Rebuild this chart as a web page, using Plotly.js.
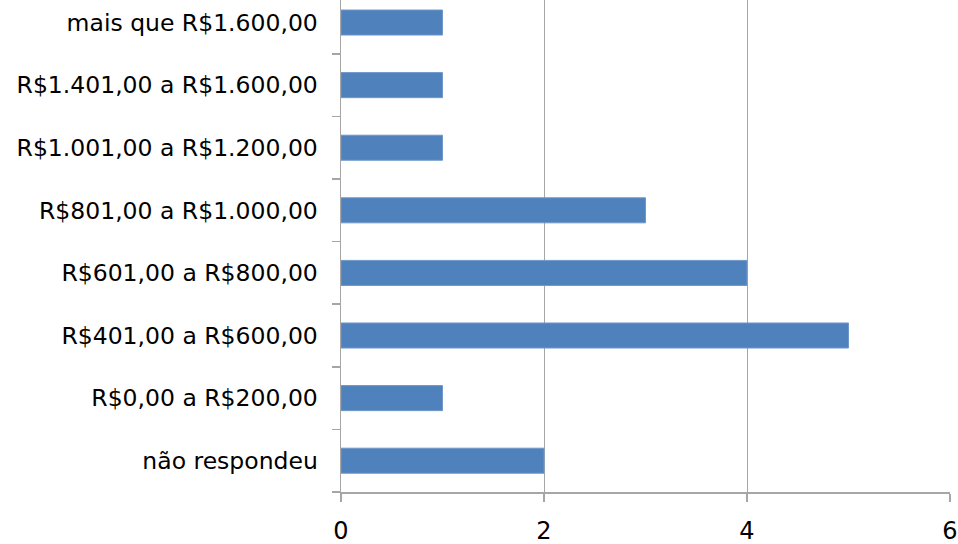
<!DOCTYPE html>
<html>
<head>
<meta charset="utf-8">
<script src="https://cdn.plot.ly/plotly-3.0.1.min.js"></script>
<style>html,body{margin:0;padding:0;background:#fff}#chart{width:958px;height:544px}</style>
</head>
<body>
<div id="chart"></div>
<script>
const categories = [
  "não respondeu",
  "R$0,00 a R$200,00",
  "R$401,00 a R$600,00",
  "R$601,00 a R$800,00",
  "R$801,00 a R$1.000,00",
  "R$1.001,00 a R$1.200,00",
  "R$1.401,00 a R$1.600,00",
  "mais que R$1.600,00"
];
const values = [2, 1, 5, 4, 3, 1, 1, 1];
const xTicks = [0, 2, 4, 6];

const trace = {
  type: "bar",
  orientation: "h",
  x: values,
  y: categories,
  marker: { color: "#4f81bd", line: { color: "#6f97c9", width: 1 } },
  hoverinfo: "none"
};

const layout = {
  width: 958,
  height: 544,
  margin: { l: 341, r: 8, t: 0, b: 52, pad: 0 },
  paper_bgcolor: "#ffffff",
  plot_bgcolor: "#ffffff",
  showlegend: false,
  bargap: 0.6,
  font: { family: "DejaVu Sans, Arial, sans-serif", size: 23.5, color: "#000000" },
  xaxis: {
    range: [0, 6],
    tickvals: xTicks,
    ticktext: xTicks.map(String),
    showgrid: true,
    gridcolor: "#a6a6a6",
    gridwidth: 1,
    zeroline: false,
    showline: true,
    linecolor: "#a6a6a6",
    linewidth: 1.5,
    ticks: "outside",
    ticklen: 8,
    tickcolor: "#a6a6a6",
    tickwidth: 1.5,
    tickfont: { size: 24, color: "#000000" },
    ticklabelstandoff: 9,
    fixedrange: true
  },
  yaxis: {
    type: "category",
    range: [-0.5, 7.36],
    showgrid: false,
    zeroline: false,
    showline: true,
    linecolor: "#a6a6a6",
    linewidth: 1.5,
    ticks: "outside",
    tickson: "boundaries",
    ticklen: 8,
    tickcolor: "#a6a6a6",
    tickwidth: 1.5,
    tickfont: { size: 23.5, color: "#000000" },
    ticklabelstandoff: 17,
    fixedrange: true
  }
};

Plotly.newPlot("chart", [trace], layout, { displayModeBar: false, staticPlot: true });
</script>
</body>
</html>
